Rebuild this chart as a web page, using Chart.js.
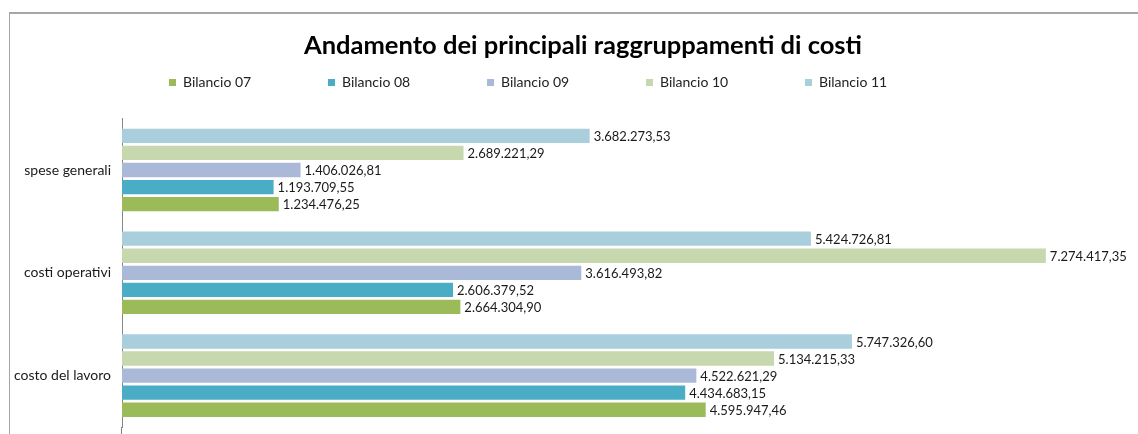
<!DOCTYPE html>
<html>
<head>
<meta charset="utf-8">
<script src="https://cdn.jsdelivr.net/npm/chart.js@4.4.0/dist/chart.umd.min.js"></script>
<style>
  html, body { margin: 0; padding: 0; background: #fff; }
  #wrap { position: relative; width: 1138px; height: 434px; overflow: hidden; }
  #frame { position: absolute; left: 9px; top: 12px; width: 1300px; height: 600px;
           border-top: 2px solid #a6a6a6; border-left: 1px solid #a6a6a6; }
  canvas { position: absolute; left: 0; top: 0; }
</style>
</head>
<body>
<div id="wrap">
  <div id="frame"></div>
  <canvas id="costChart" width="1138" height="434"></canvas>
</div>
<script>
// categories top to bottom, as in the picture
const categories = ['spese generali', 'costi operativi', 'costo del lavoro'];
const seriesNames = ['Bilancio 07', 'Bilancio 08', 'Bilancio 09', 'Bilancio 10', 'Bilancio 11'];
const bilancio07 = [1234476.25, 2664304.90, 4595947.46];
const bilancio08 = [1193709.55, 2606379.52, 4434683.15];
const bilancio09 = [1406026.81, 3616493.82, 4522621.29];
const bilancio10 = [2689221.29, 7274417.35, 5134215.33];
const bilancio11 = [3682273.53, 5424726.81, 5747326.60];
const seriesColors = ['#9bbb59', '#4bacc6', '#aab9d8', '#c7d7ae', '#a9cedc'];

const FONT = 'Lato, "Open Sans", sans-serif';

function fmtIt(v) {
  const parts = v.toFixed(2).split('.');
  return parts[0].replace(/\B(?=(\d{3})+(?!\d))/g, '.') + ',' + parts[1];
}

// legend items in the picture are spaced evenly, about 159px apart
const mctx = document.createElement('canvas').getContext('2d');
mctx.font = '14px ' + FONT;
const legendTextW = mctx.measureText('Bilancio 07').width;
const legendPad = 159 - (7 + 7 + legendTextW);

const allSeries = [bilancio07, bilancio08, bilancio09, bilancio10, bilancio11];
// Excel draws the first series at the bottom of each group
const datasets = allSeries.map((data, i) => ({
  label: seriesNames[i],
  data: data,
  backgroundColor: seriesColors[i],
  borderWidth: 0,
  categoryPercentage: 0.83,
  barPercentage: 0.84
})).reverse();

const valueLabels = {
  id: 'valueLabels',
  afterDatasetsDraw(chart) {
    const ctx = chart.ctx;
    ctx.save();
    ctx.font = '13px ' + FONT;
    ctx.fillStyle = '#1a1a1a';
    ctx.textAlign = 'left';
    ctx.textBaseline = 'middle';
    chart.data.datasets.forEach((ds, di) => {
      chart.getDatasetMeta(di).data.forEach((bar, i) => {
        ctx.fillText(fmtIt(ds.data[i]), bar.x + 4, bar.y + 1);
      });
    });
    ctx.restore();
  },
  afterDraw(chart) {
    // axis line runs on past the plot bottom in the picture
    const ctx = chart.ctx;
    const x = Math.round(chart.chartArea.left) - 0.5;
    ctx.save();
    ctx.strokeStyle = '#868686';
    ctx.lineWidth = 1;
    ctx.beginPath();
    ctx.moveTo(x, chart.chartArea.bottom);
    ctx.lineTo(x, chart.height);
    ctx.stroke();
    ctx.restore();
  }
};

const shiftBlocks = {
  id: 'shiftBlocks',
  afterLayout(chart) {
    const lg = chart.legend;
    const start = (lg.left + legendPad + lg.right - lg.lineWidths[0]) / 2;
    const dx = 169 - start;
    lg.left += dx; lg.right += dx;
    lg.top = 75.5 - legendPad;
    lg.bottom = 118;
    chart.titleBlock.left += 14;
    chart.titleBlock.right += 14;
  }
};

new Chart(document.getElementById('costChart'), {
  type: 'bar',
  data: { labels: categories, datasets: datasets },
  options: {
    indexAxis: 'y',
    responsive: false,
    animation: false,
    layout: { padding: { left: 0, right: 0, top: 0, bottom: 7 } },
    plugins: {
      title: {
        display: true,
        text: 'Andamento dei principali raggruppamenti di costi',
        color: '#000',
        font: { family: FONT, size: 25.5, weight: 'bold' },
        padding: { top: 30, bottom: 6 }
      },
      legend: {
        display: true,
        reverse: true,
        maxHeight: 52,
        labels: {
          boxWidth: 7,
          boxHeight: 7,
          padding: legendPad,
          color: '#222',
          font: { family: FONT, size: 14 }
        }
      },
      tooltip: { enabled: false }
    },
    scales: {
      x: {
        display: false,
        min: 0,
        max: 8000000
      },
      y: {
        grid: { display: false },
        border: { display: true, color: '#868686', width: 1 },
        ticks: { color: '#1a1a1a', padding: 3, font: { family: FONT, size: 14 } },
        afterFit(scale) {
          scale.width = 122;
          scale.paddingTop = 0;
          scale.paddingBottom = 0;
        }
      }
    }
  },
  plugins: [valueLabels, shiftBlocks]
});
</script>
</body>
</html>
